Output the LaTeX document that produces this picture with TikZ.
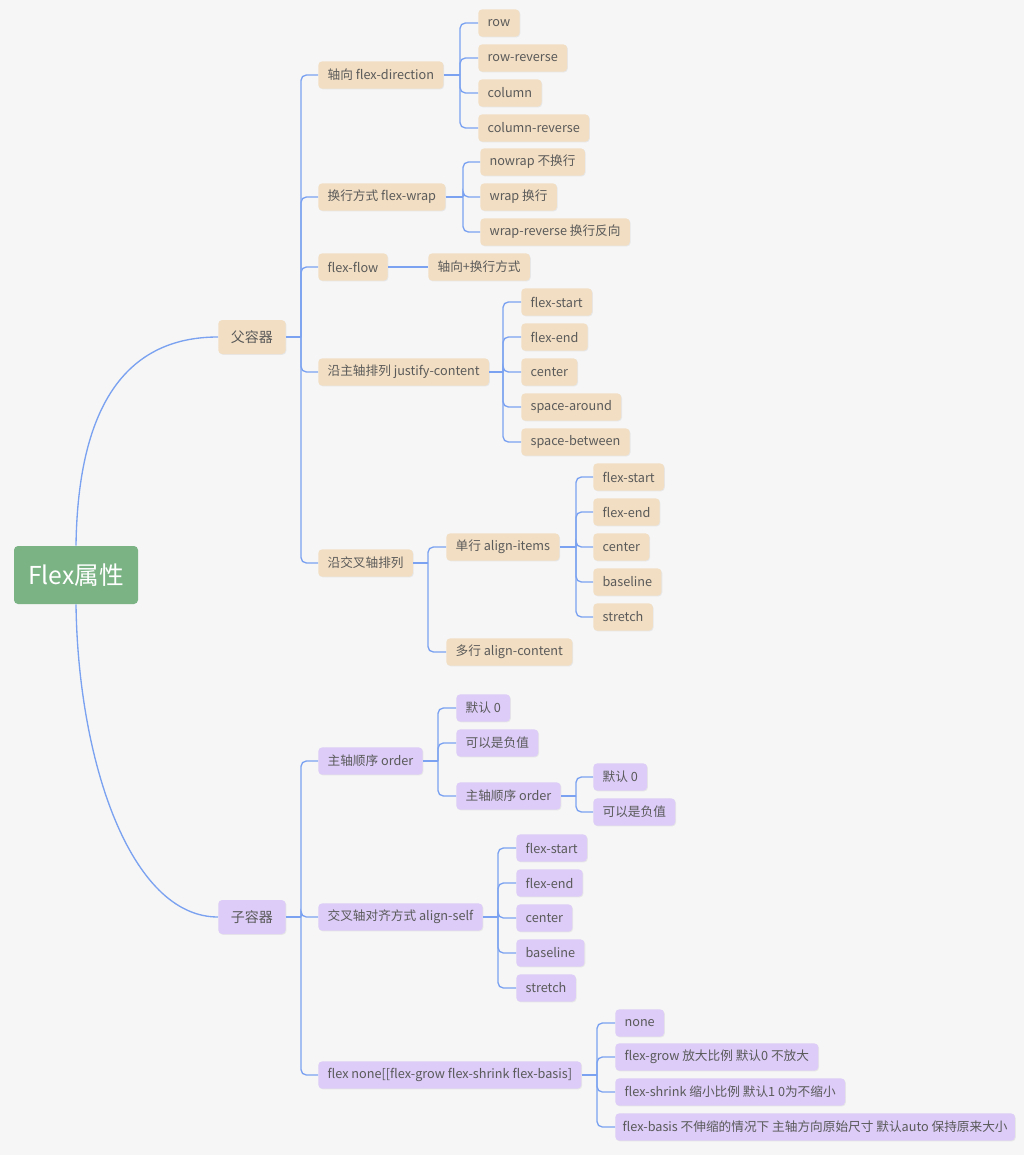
\documentclass[tikz,border=0pt]{standalone}
\usepackage{fontspec}
\setmainfont{Noto Sans CJK SC}
\usetikzlibrary{shadows}
\definecolor{mmbg}{RGB}{246,246,246}
\definecolor{mmline}{RGB}{122,162,240}
\definecolor{mmbeige}{RGB}{242,222,194}
\definecolor{mmpurple}{RGB}{220,204,247}
\definecolor{mmgreen}{RGB}{123,179,133}
\definecolor{mmtext}{RGB}{90,90,90}

\begin{document}
\begin{tikzpicture}[x=0.75pt,y=-0.75pt,
    every node/.style={font=\fontsize{9.5}{11}\selectfont,text=mmtext},
    topic/.style={rounded corners=3pt,minimum height=20.5pt,inner xsep=7pt,anchor=west,
      drop shadow={opacity=0.12,shadow xshift=0.6pt,shadow yshift=-0.6pt}},
    pbox/.style={topic,fill=mmbeige},
    cbox/.style={topic,fill=mmpurple},
    mainbox/.style={minimum height=25.5pt,inner xsep=9.5pt,font=\fontsize{10.5}{12}\selectfont},
    link/.style={draw=mmline,line width=1pt,rounded corners=4pt}]
  \fill[mmbg] (0,0) rectangle (1024,1155);
  \useasboundingbox (0,0) rectangle (1024,1155);
  % Root
  \node[fill=mmgreen,rounded corners=3pt,text=white,font=\fontsize{18.5}{20}\selectfont,
        minimum width=93pt,minimum height=43.5pt] (root) at (76,575) {Flex属性};
  \node[pbox,mainbox] (parent) at (218,337) {父容器};
  \node[cbox,mainbox] (child)  at (218,917) {子容器};
  \draw[link] (root.north) .. controls (78,400) and (130,337) .. (parent.west);
  \draw[link] (root.south) .. controls (78,760) and (130,917) .. (child.west);

  % Parent container
  \node[pbox] (dir)     at (318,75)  {轴向 flex-direction};
  \node[pbox] (wrap)    at (318,197) {换行方式 flex-wrap};
  \node[pbox] (flow)    at (318,267) {flex-flow};
  \node[pbox] (justify) at (318,372) {沿主轴排列 justify-content};
  \node[pbox] (cross)   at (318,563) {沿交叉轴排列};
  \coordinate (parentj) at (301,337);
  \draw[link] (parent.east) -- (parentj);
  \foreach \c in {dir,wrap,flow,justify,cross} \draw[link] (parentj) |- (\c.west);

  % flex-direction
  \node[pbox] (row)    at (478,23)  {row};
  \node[pbox] (rowrev) at (478,58)  {row-reverse};
  \node[pbox] (col)    at (478,93)  {column};
  \node[pbox] (colrev) at (478,128) {column-reverse};
  \coordinate (dirj) at (460,75);
  \draw[link] (dir.east) -- (dirj);
  \foreach \c in {row,rowrev,col,colrev} \draw[link] (dirj) |- (\c.west);

  % flex-wrap
  \node[pbox] (nowrap)  at (480,162) {nowrap 不换行};
  \node[pbox] (wrapit)  at (480,197) {wrap 换行};
  \node[pbox] (wraprev) at (480,232) {wrap-reverse 换行反向};
  \coordinate (wrapj) at (463,197);
  \draw[link] (wrap.east) -- (wrapj);
  \foreach \c in {nowrap,wrapit,wraprev} \draw[link] (wrapj) |- (\c.west);

  % flex-flow
  \node[pbox] (flowval) at (428,267) {轴向+换行方式};
  \draw[link] (flow.east) -- (flowval.west);

  % justify-content
  \node[pbox] (jstart)   at (521,302) {flex-start};
  \node[pbox] (jend)     at (521,337) {flex-end};
  \node[pbox] (jcenter)  at (521,372) {center};
  \node[pbox] (jaround)  at (521,407) {space-around};
  \node[pbox] (jbetween) at (521,442) {space-between};
  \coordinate (justifyj) at (503,372);
  \draw[link] (justify.east) -- (justifyj);
  \foreach \c in {jstart,jend,jcenter,jaround,jbetween} \draw[link] (justifyj) |- (\c.west);

  % cross axis
  \node[pbox] (items)   at (446,547) {单行 align-items};
  \node[pbox] (content) at (446,652) {多行 align-content};
  \coordinate (crossj) at (428,563);
  \draw[link] (cross.east) -- (crossj);
  \foreach \c in {items,content} \draw[link] (crossj) |- (\c.west);

  \node[pbox] (istart)    at (593,477) {flex-start};
  \node[pbox] (iend)      at (593,512) {flex-end};
  \node[pbox] (icenter)   at (593,547) {center};
  \node[pbox] (ibaseline) at (593,582) {baseline};
  \node[pbox] (istretch)  at (593,617) {stretch};
  \coordinate (itemsj) at (576,547);
  \draw[link] (items.east) -- (itemsj);
  \foreach \c in {istart,iend,icenter,ibaseline,istretch} \draw[link] (itemsj) |- (\c.west);

  % Child item
  \node[cbox] (order)  at (318,761)  {主轴顺序 order};
  \node[cbox] (self)   at (318,917)  {交叉轴对齐方式 align-self};
  \node[cbox] (flexsh) at (318,1075) {flex none[[flex-grow flex-shrink flex-basis]};
  \coordinate (childj) at (301,917);
  \draw[link] (child.east) -- (childj);
  \foreach \c in {order,self,flexsh} \draw[link] (childj) |- (\c.west);

  % order
  \node[cbox] (odef)   at (456,708) {默认 0};
  \node[cbox] (oneg)   at (456,743) {可以是负值};
  \node[cbox] (order2) at (456,796) {主轴顺序 order};
  \coordinate (orderj) at (438,761);
  \draw[link] (order.east) -- (orderj);
  \foreach \c in {odef,oneg,order2} \draw[link] (orderj) |- (\c.west);

  \node[cbox] (odef2) at (593,777) {默认 0};
  \node[cbox] (oneg2) at (593,812) {可以是负值};
  \coordinate (order2j) at (576,796);
  \draw[link] (order2.east) -- (order2j);
  \foreach \c in {odef2,oneg2} \draw[link] (order2j) |- (\c.west);

  % align-self
  \node[cbox] (sstart)    at (516,848) {flex-start};
  \node[cbox] (send)      at (516,883) {flex-end};
  \node[cbox] (scenter)   at (516,918) {center};
  \node[cbox] (sbaseline) at (516,953) {baseline};
  \node[cbox] (sstretch)  at (516,988) {stretch};
  \coordinate (selfj) at (498,917);
  \draw[link] (self.east) -- (selfj);
  \foreach \c in {sstart,send,scenter,sbaseline,sstretch} \draw[link] (selfj) |- (\c.west);

  % flex shorthand
  \node[cbox] (fnone)   at (615,1023) {none};
  \node[cbox] (fgrow)   at (615,1057) {flex-grow 放大比例 默认0 不放大};
  \node[cbox] (fshrink) at (615,1092) {flex-shrink 缩小比例 默认1 0为不缩小};
  \node[cbox,inner xsep=5.5pt] (fbasis) at (615,1127) {flex-basis 不伸缩的情况下 主轴方向原始尺寸 默认auto 保持原来大小};
  \coordinate (flexshj) at (597,1075);
  \draw[link] (flexsh.east) -- (flexshj);
  \foreach \c in {fnone,fgrow,fshrink,fbasis} \draw[link] (flexshj) |- (\c.west);
\end{tikzpicture}
\end{document}
